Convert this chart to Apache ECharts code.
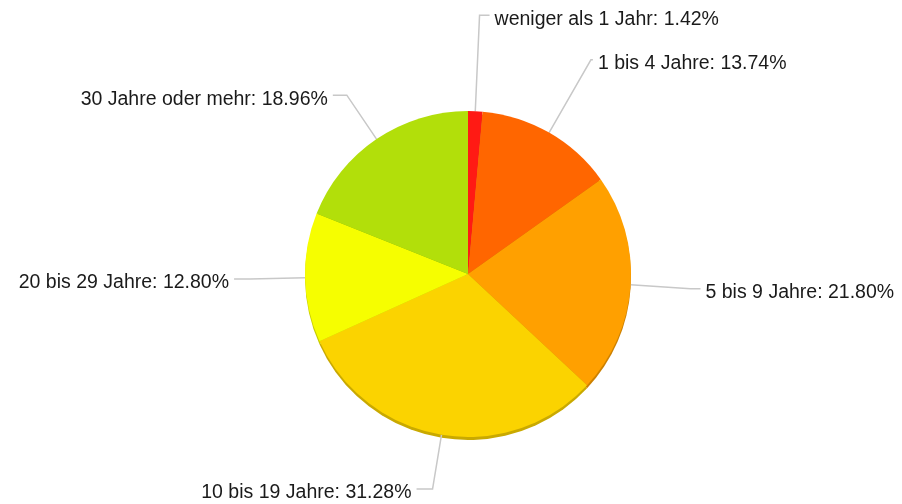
<!DOCTYPE html>
<html>
<head>
<meta charset="utf-8">
<script src="https://cdn.jsdelivr.net/npm/echarts@6/dist/echarts.min.js"></script>
<style>
  html, body { margin: 0; padding: 0; background: #fff; }
  #chart { width: 902px; height: 504px; }
</style>
</head>
<body>
<div id="chart"></div>
<script>
const categories = [
  'weniger als 1 Jahr', '1 bis 4 Jahre', '5 bis 9 Jahre',
  '10 bis 19 Jahre', '20 bis 29 Jahre', '30 Jahre oder mehr',
]
const shares = [1.42, 13.74, 21.80, 31.28, 12.80, 18.96]

const COLORS = ['#ff1a14', '#ff6600', '#ffa000', '#fbd300', '#f6fe00', '#b2df0a']
// label line lengths per slice [radial, horizontal]
const LINE_LEN = [[96, 10], [84, 2], [60, 10], [55, 16], [55, 16], [53, 14]]

const CENTER = [468, 274]
const RADIUS = 163

function darken(hex, f) {
  const c = echarts.color.parse(hex)
  return `rgb(${Math.round(c[0] * f)},${Math.round(c[1] * f)},${Math.round(c[2] * f)})`
}

const chart = echarts.init(document.getElementById('chart'))

chart.setOption({
  animation: false,
  series: [
    {
      // darker rim underneath for the slight 3d edge
      type: 'pie',
      silent: true,
      z: 1,
      center: [CENTER[0], CENTER[1] + 3],
      radius: RADIUS,
      startAngle: 90,
      clockwise: true,
      label: { show: false },
      labelLine: { show: false },
      data: shares.map((v, i) => ({
        name: categories[i],
        value: v,
        itemStyle: { color: darken(COLORS[i], 0.8) },
      })),
    },
    {
      type: 'pie',
      z: 2,
      center: CENTER,
      radius: RADIUS,
      startAngle: 90,
      clockwise: true,
      avoidLabelOverlap: false,
      itemStyle: { borderWidth: 0 },
      label: {
        show: true,
        color: '#1a1a1a',
        fontFamily: 'Liberation Sans, Arial, sans-serif',
        fontSize: 19.5,
        distanceToLabelLine: 5,
        formatter: (p) => `${p.name}: ${p.value.toFixed(2)}%`,
      },
      labelLayout: { dy: 4 },
      labelLine: {
        lineStyle: { color: '#c8c8c8', width: 1.5 },
      },
      data: shares.map((v, i) => ({
        name: categories[i],
        value: v,
        itemStyle: { color: COLORS[i] },
        labelLine: { length: LINE_LEN[i][0], length2: LINE_LEN[i][1] },
      })),
    },
  ],
})
</script>
</body>
</html>
